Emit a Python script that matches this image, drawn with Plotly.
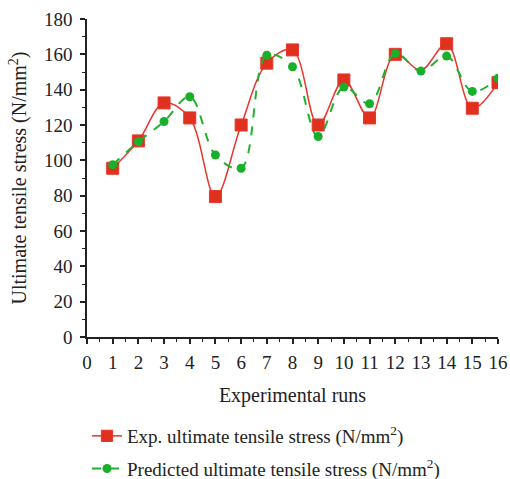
import plotly.graph_objects as go

runs = list(range(1, 17))
exp_uts = [95.5, 111, 132.5, 124, 79.5, 120, 155, 162.5, 120, 145.5, 124, 160, 151, 166, 129.5, 144]
pred_uts = [97.5, 110.5, 122, 136, 103, 95.5, 159.5, 153, 113.5, 141.5, 132, 160.5, 150.5, 159, 139, 146.5]
exp_marker_size = [12] * 16
exp_marker_size[12] = 0

FONT = "Liberation Serif"
W, H = 510, 479

fig = go.Figure()
fig.add_trace(go.Scatter(
    x=runs, y=exp_uts, mode="lines+markers",
    name="Exp. ultimate tensile stress (N/mm<sup>2</sup>)",
    line=dict(color="#e8352b", width=1.5, shape="spline", smoothing=1.0),
    marker=dict(symbol="square", size=exp_marker_size, color="#e0301e", opacity=1),
    legendgroup="a",
))
fig.add_trace(go.Scatter(
    x=runs, y=pred_uts, mode="lines+markers",
    name="Predicted ultimate tensile stress (N/mm<sup>2</sup>)",
    line=dict(color="#22b030", width=2, dash="dash", shape="spline", smoothing=1.0),
    marker=dict(symbol="circle", size=9, color="#1aaf2a", opacity=1),
    legendgroup="b",
))

axis_common = dict(
    showline=True, linecolor="#222", linewidth=1.5,
    ticks="outside", ticklen=5, tickwidth=1.5, tickcolor="#222",
    showgrid=False, zeroline=False, automargin=False,
    tickfont=dict(family=FONT, size=19, color="#222"),
)
fig.update_xaxes(
    range=[0, 16], dtick=1, tick0=0, ticklabelstandoff=2,
    minor=dict(dtick=0.5, ticks="outside", ticklen=3, tickcolor="#222", tickwidth=1.2),
    title=dict(text="Experimental runs", font=dict(family=FONT, size=20, color="#222"), standoff=16),
    **axis_common,
)
fig.update_yaxes(
    range=[0, 180], dtick=20, tick0=0, ticklabelstandoff=4,
    minor=dict(dtick=10, ticks="outside", ticklen=3, tickcolor="#222", tickwidth=1.2),
    title=dict(text="Ultimate tensile stress (N/mm<sup>2</sup>)", font=dict(family=FONT, size=20, color="#222"), standoff=12),
    **axis_common,
)
fig.update_layout(
    width=W, height=H,
    margin=dict(l=87, r=12, t=19, b=142, autoexpand=False),
    plot_bgcolor="white", paper_bgcolor="white",
    showlegend=True,
    legend=dict(
        x=0.0, y=(H - 417) / H, xref="paper", yref="container",
        xanchor="left", yanchor="top",
        font=dict(family=FONT, size=19, color="#222"),
        traceorder="grouped", tracegroupgap=5,
        bgcolor="rgba(0,0,0,0)",
    ),
)
# remove the browser's default 8px body margin so the figure fills the window exactly
fig.write_html(
    "out.html",
    config={"displayModeBar": False},
    post_script="document.body.style.margin='0';document.body.style.overflow='hidden';",
)
